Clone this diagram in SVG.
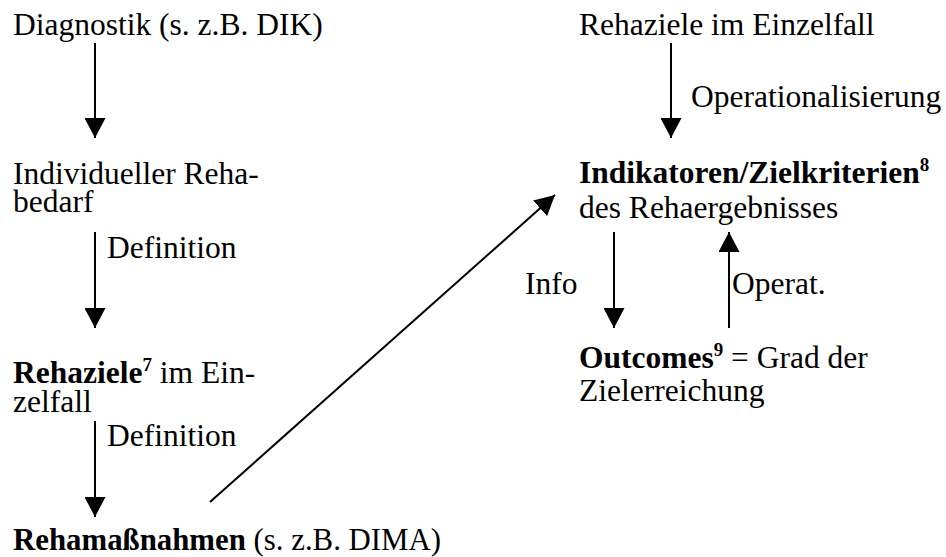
<svg xmlns="http://www.w3.org/2000/svg" width="946" height="557" viewBox="0 0 946 557">
<style>
text{font-family:"Liberation Serif","Times New Roman",serif;font-size:31.5px;fill:#000}
.b{font-weight:bold}
.sup{font-size:19px;font-weight:bold}
.ln{stroke:#000;stroke-width:2;fill:none}
</style>
<defs>
<marker id="ah" viewBox="0 0 20 21" refX="20" refY="10.5" markerWidth="20" markerHeight="21" markerUnits="userSpaceOnUse" orient="auto">
<path d="M0,0 L20,10.5 L0,21 z" fill="#000"/>
</marker>
</defs>
<rect width="946" height="557" fill="#fff"/>
<g id="connectors">
<line class="ln" x1="95" y1="43" x2="95" y2="138" marker-end="url(#ah)"/>
<line class="ln" x1="95" y1="232" x2="95" y2="328" marker-end="url(#ah)"/>
<line class="ln" x1="95" y1="421" x2="95" y2="517" marker-end="url(#ah)"/>
<line class="ln" x1="210" y1="502" x2="555" y2="195" marker-end="url(#ah)"/>
<line class="ln" x1="671" y1="43" x2="671" y2="138" marker-end="url(#ah)"/>
<line class="ln" x1="614" y1="232" x2="614" y2="328" marker-end="url(#ah)"/>
<line class="ln" x1="729" y1="328" x2="729" y2="232" marker-end="url(#ah)"/>
<text x="107" y="258">Definition</text>
<text x="107" y="446">Definition</text>
<text x="691" y="107">Operationalisierung</text>
<text x="525" y="294">Info</text>
<text x="732" y="294">Operat.</text>
</g>
<g id="diagnostik"><text x="13" y="35">Diagnostik (s. z.B. DIK)</text></g>
<g id="rehabedarf"><text x="13" y="184">Individueller Reha-</text><text x="13" y="212">bedarf</text></g>
<g id="rehaziele"><text x="13" y="383"><tspan class="b">Rehaziele</tspan><tspan class="sup" dy="-12">7</tspan><tspan dy="12"> im Ein-</tspan></text><text x="13" y="412">zelfall</text></g>
<g id="rehamassnahmen"><text x="13" y="550" textLength="428" lengthAdjust="spacingAndGlyphs"><tspan class="b">Rehamaßnahmen</tspan> (s. z.B. DIMA)</text></g>
<g id="rehaziele-einzelfall"><text x="579" y="35">Rehaziele im Einzelfall</text></g>
<g id="indikatoren"><text x="579" y="183"><tspan class="b">Indikatoren/Zielkriterien</tspan><tspan class="sup" dy="-12">8</tspan></text><text x="579" y="218">des Rehaergebnisses</text></g>
<g id="outcomes"><text x="579" y="368"><tspan class="b">Outcomes</tspan><tspan class="sup" dy="-12">9</tspan><tspan dy="12"> = Grad der</tspan></text><text x="579" y="401">Zielerreichung</text></g>
</svg>
